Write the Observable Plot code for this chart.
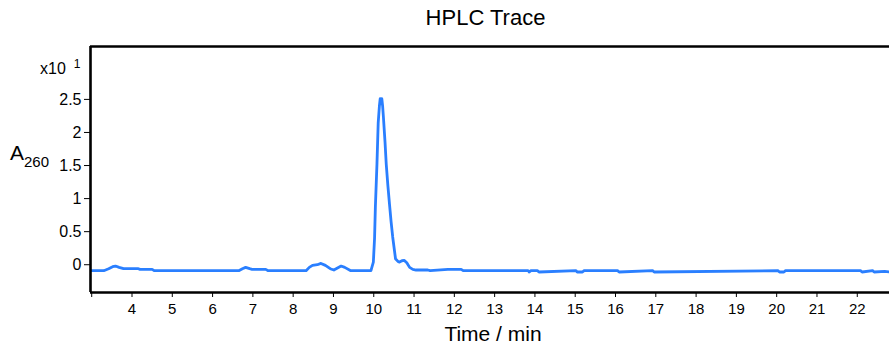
<!DOCTYPE html>
<html><head><meta charset="utf-8">
<script src="https://cdn.jsdelivr.net/npm/d3@7"></script>
<script src="https://cdn.jsdelivr.net/npm/@observablehq/plot@0.6"></script>
<style>
body{margin:0;background:#fff;font-family:"Liberation Sans",Arial,sans-serif;}
#title{box-sizing:border-box;width:889px;height:36px;line-height:36px;font-size:22px;text-align:center;padding-left:82px;color:#000;}
#chart svg{display:block;}
</style></head>
<body>
<div id="title">HPLC Trace</div>
<div id="chart"></div>
<script>
// Retention time (min)
const time = [2.97, 3.3, 3.42, 3.52, 3.59, 3.68, 3.79, 4.16, 4.2, 4.5, 4.55, 6.65, 6.74, 6.82, 6.92, 6.98, 7.32, 7.38,
  8.32, 8.4, 8.48, 8.6, 8.69, 8.8, 8.92, 9.01, 9.1, 9.19, 9.28, 9.43, 9.93, 9.99, 10.02, 10.04, 10.08, 10.11, 10.14, 10.16,
  10.18, 10.2, 10.22, 10.24, 10.28, 10.31, 10.35, 10.39, 10.43, 10.47, 10.54, 10.6, 10.64, 10.7, 10.76, 10.82, 10.89, 10.97, 11.05,
  11.34, 11.4, 11.84, 12.17, 12.22, 13.83, 13.86, 13.9, 14.06, 14.1, 15.02, 15.05, 15.18, 15.22, 16.05, 16.09, 16.92, 16.96,
  20.03, 20.07, 20.18, 20.22, 22.08, 22.12, 22.38, 22.42, 22.68, 22.8];
// A260 absorbance (x10^1)
const absorbance = [-0.09, -0.09, -0.06, -0.03, -0.02, -0.04, -0.06, -0.06, -0.07, -0.07, -0.09, -0.09, -0.06, -0.04, -0.06, -0.07, -0.07, -0.09,
  -0.09, -0.04, -0.01, 0.0, 0.02, -0.01, -0.06, -0.08, -0.05, -0.02, -0.04, -0.09, -0.09, 0.04, 0.4, 0.87, 1.53, 2.14, 2.4, 2.51,
  2.45, 2.51, 2.4, 2.23, 1.85, 1.52, 1.2, 0.92, 0.65, 0.42, 0.09, 0.05, 0.04, 0.06, 0.065, 0.03, -0.04, -0.07, -0.08,
  -0.08, -0.09, -0.07, -0.07, -0.09, -0.09, -0.11, -0.09, -0.09, -0.11, -0.09, -0.11, -0.11, -0.09, -0.09, -0.11, -0.09, -0.11,
  -0.09, -0.11, -0.11, -0.09, -0.09, -0.11, -0.09, -0.11, -0.1, -0.11];
const xTicks = [3, 4, 5, 6, 7, 8, 9, 10, 11, 12, 13, 14, 15, 16, 17, 18, 19, 20, 21, 22];
const yTicks = [0, 0.5, 1, 1.5, 2, 2.5];

const data = time.map((t, i) => ({t, a: absorbance[i]}));
const xDomain = [2.97, 22.8], yDomain = [-0.42, 3.3];

const svg = Plot.plot({
  width: 889, height: 311,
  marginLeft: 90, marginRight: 0, marginTop: 10, marginBottom: 55,
  style: {fontFamily: "Liberation Sans, Arial, sans-serif", color: "#000", background: "#fff"},
  x: {domain: xDomain},
  y: {domain: yDomain},
  marks: [
    Plot.line(data, {x: "t", y: "a", stroke: "#2a7fff", strokeWidth: 2.8, clip: true}),
    Plot.axisX({ticks: xTicks, tickSize: 5, tickPadding: 6, tickFormat: d => d === 3 ? "" : String(d), label: null}),
    Plot.axisY({ticks: yTicks, tickSize: 6, tickPadding: 3, tickFormat: d => String(d), label: null}),
    Plot.ruleX([xDomain[0]], {stroke: "#000", strokeWidth: 2.6}),
    Plot.ruleY([yDomain[1]], {stroke: "#000", strokeWidth: 2.6}),
    Plot.ruleY([yDomain[0]], {stroke: "#000", strokeWidth: 2.6})
  ]
});

const s = d3.select(svg);
s.selectAll("g[aria-label='x-axis tick label']").attr("font-size", 15).selectAll("text").attr("font-size", 15);
s.selectAll("g[aria-label='y-axis tick label']").attr("font-size", 16).selectAll("text").attr("font-size", 16);
const yl = s.append("text").attr("x", 10).attr("y", 124).attr("font-size", 21).attr("text-anchor", "start").attr("fill", "#000");
yl.append("tspan").text("A");
yl.append("tspan").attr("font-size", 15).attr("dy", 7).text("260");
const ex = s.append("text").attr("x", 40).attr("y", 38).attr("font-size", 16).attr("text-anchor", "start").attr("fill", "#000");
ex.append("tspan").text("x10");
ex.append("tspan").attr("font-size", 12).attr("dx", 8).attr("dy", -6).text("1");
s.append("text").attr("x", 493).attr("y", 304.5).attr("text-anchor", "middle").attr("font-size", 21).attr("fill", "#000").text("Time / min");

document.getElementById("chart").appendChild(svg);
</script>
</body></html>
